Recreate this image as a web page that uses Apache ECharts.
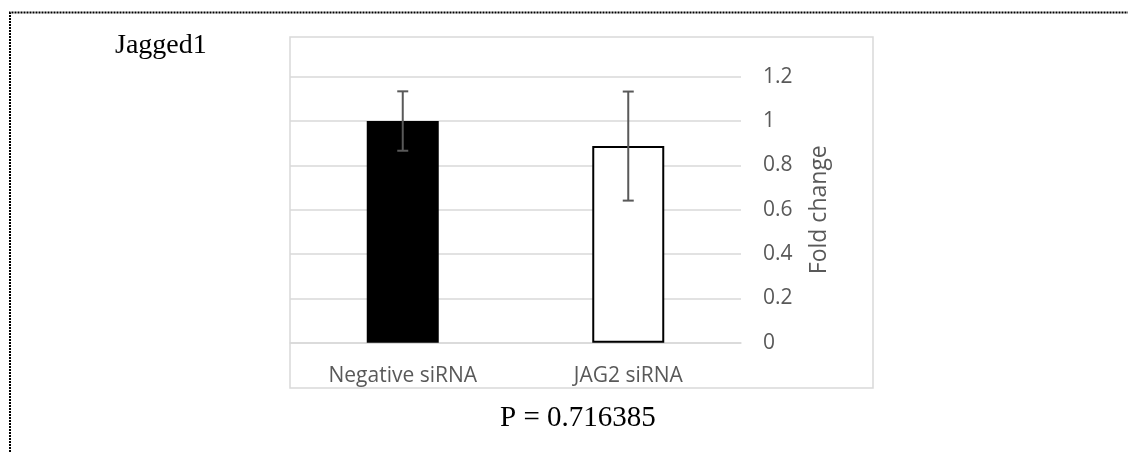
<!DOCTYPE html>
<html>
<head>
<meta charset="utf-8">
<script src="https://cdn.jsdelivr.net/npm/echarts@6/dist/echarts.min.js"></script>
<style>
  html, body { margin: 0; padding: 0; background: #fff; }
  #chart { width: 1128px; height: 452px; }
</style>
</head>
<body>
<div id="chart"></div>
<script>
// data
const categories = ['Negative siRNA', 'JAG2 siRNA']
const foldChange = [1.0, 0.887]
const errorBar = [0.134, 0.246]
const barColors = ['#000000', '#ffffff']
const yTicks = [0, 0.2, 0.4, 0.6, 0.8, 1.0, 1.2]

const labelGray = '#595959'
const gridGray = '#d9d9d9'

const myChart = echarts.init(document.getElementById('chart'))

const option = {
  animation: false,
  grid: { left: 290, right: 387, top: 76.7, bottom: 109.3 },
  xAxis: {
    type: 'category',
    data: categories,
    axisLine: { show: true, lineStyle: { color: gridGray, width: 1.5 } },
    axisTick: { show: false },
    axisLabel: { color: labelGray, fontSize: 21, fontFamily: 'Open Sans', margin: 23 }
  },
  yAxis: {
    type: 'value',
    position: 'right',
    min: yTicks[0],
    max: yTicks[yTicks.length - 1],
    interval: 0.2,
    name: 'Fold change',
    nameLocation: 'middle',
    nameRotate: 90,
    nameGap: 67,
    nameTextStyle: { color: labelGray, fontSize: 23, fontFamily: 'Open Sans' },
    axisLine: { show: false },
    axisTick: { show: false },
    splitLine: { lineStyle: { color: gridGray, width: 1.5 } },
    axisLabel: {
      color: labelGray, fontSize: 21, fontFamily: 'Open Sans', margin: 22, align: 'left',
      formatter: v => String(Math.round(v * 10) / 10)
    }
  },
  series: [
    {
      type: 'bar',
      barWidth: 72,
      data: foldChange.map((v, i) => ({
        value: v,
        itemStyle: { color: barColors[i], borderColor: '#000', borderWidth: i === 1 ? 2 : 0 }
      })),
      z: 2
    },
    {
      type: 'custom',
      z: 3,
      data: foldChange.map((v, i) => [i, v - errorBar[i], v + errorBar[i]]),
      renderItem: (params, api) => {
        const lo = api.coord([api.value(0), api.value(1)])
        const hi = api.coord([api.value(0), api.value(2)])
        const half = 5.5
        const style = { stroke: labelGray, lineWidth: 2 }
        return {
          type: 'group',
          children: [
            { type: 'line', shape: { x1: hi[0], y1: hi[1], x2: lo[0], y2: lo[1] }, style },
            { type: 'line', shape: { x1: hi[0] - half, y1: hi[1], x2: hi[0] + half, y2: hi[1] }, style },
            { type: 'line', shape: { x1: lo[0] - half, y1: lo[1], x2: lo[0] + half, y2: lo[1] }, style }
          ]
        }
      }
    }
  ],
  graphic: [
    // dotted page frame (top and left edges)
    {
      type: 'polyline',
      shape: { points: [[10, 452], [10, 12.5], [1128, 12.5]] },
      style: { stroke: '#000', lineWidth: 2, lineDash: [2, 1], fill: null }
    },
    // chart area border
    {
      type: 'rect',
      shape: { x: 290, y: 37, width: 583, height: 351 },
      style: { stroke: gridGray, lineWidth: 1.5, fill: null },
      z: -1
    },
    {
      type: 'text',
      left: 115, top: 32,
      style: { text: 'Jagged1', font: '28px "Liberation Serif"', fill: '#000' }
    },
    {
      type: 'text',
      left: 500, top: 404,
      style: { text: 'P = 0.716385', font: '29px "Liberation Serif"', fill: '#000' }
    }
  ]
}

myChart.setOption(option)
</script>
</body>
</html>
